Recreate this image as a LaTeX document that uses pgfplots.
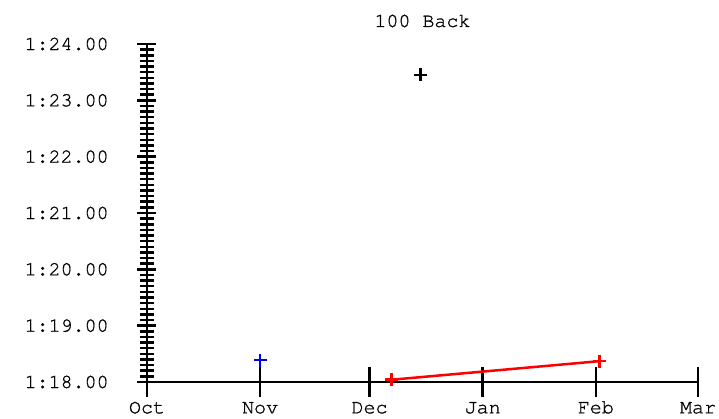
\documentclass[border=0pt]{standalone}
\usepackage{fontspec}
\setmainfont{TeX Gyre Cursor}[FakeBold=1]
\usepackage{pgfplots}
\pgfplotsset{compat=1.18}

\begin{document}
\fontsize{20}{22}\selectfont
\begin{tikzpicture}
\begin{axis}[
    scale only axis,
    width=551pt, height=338pt,
    xmin=0, xmax=151,
    ymin=78, ymax=84,
    axis x line*=bottom,
    axis y line*=left,
    axis line style={line width=2.5pt, black},
    clip=false,
    xtick={0,31,61,92,123,151},
    xticklabels={Oct,Nov,Dec,Jan,Feb,Mar},
    ytick={78,79,80,81,82,83,84},
    yticklabels={1:18.00,1:19.00,1:20.00,1:21.00,1:22.00,1:23.00,1:24.00},
    minor y tick num=9,
    tick align=center,
    major tick length=19pt,
    minor tick length=14pt,
    xtick style={/pgfplots/major tick length=30pt, line width=2.5pt, black},
    ytick style={line width=2.5pt, black},
    every tick/.append style={line width=2.5pt, black},
    yticklabel style={anchor=east, xshift=-22pt},
    xticklabel style={anchor=north, text height=12pt, text depth=4pt, yshift=-3pt},
    title={100 Back},
    title style={at={(0.5,1)}, anchor=base, yshift=11pt},
    every axis plot/.append style={line width=2.5pt, mark size=6.5pt},
]
\addplot[black, only marks, mark=+] coordinates {(75,83.45)};
\addplot[blue, only marks, mark=+] coordinates {(31,78.39)};
\addplot[red, mark=+] coordinates {(67,78.04) (124,78.37)};
\end{axis}
\pgfresetboundingbox
\path (current axis.south west) ++(-147pt,-37pt) rectangle ++(719pt,419pt);
\end{tikzpicture}
\end{document}
